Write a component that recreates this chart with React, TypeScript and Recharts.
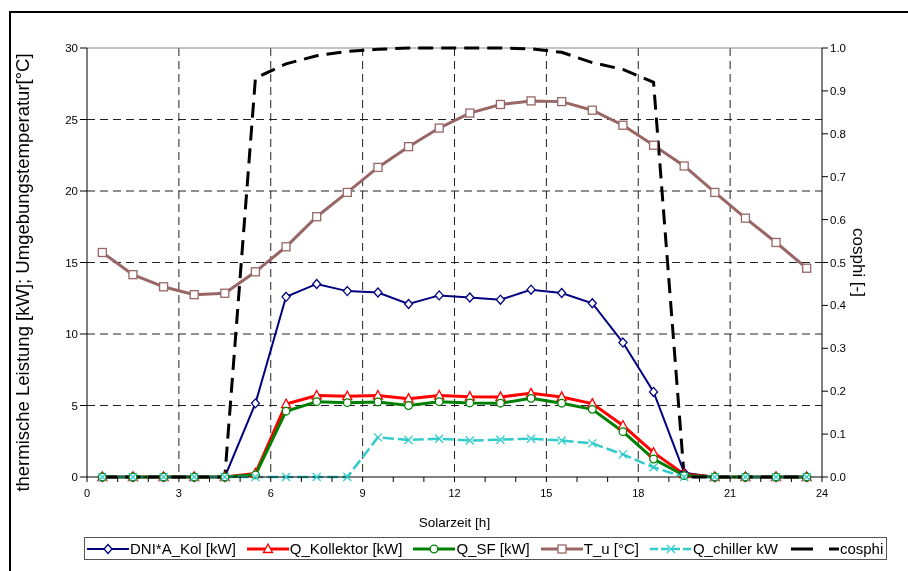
import { CartesianGrid, Legend, Line, LineChart, ReferenceLine, XAxis, YAxis } from "recharts";

// Solarzeit [h], Stundenmitte
const hours = [
  0.5, 1.5, 2.5, 3.5, 4.5, 5.5, 6.5, 7.5, 8.5, 9.5, 10.5, 11.5,
  12.5, 13.5, 14.5, 15.5, 16.5, 17.5, 18.5, 19.5, 20.5, 21.5, 22.5, 23.5,
];

const dniAKol = [0, 0, 0, 0, 0, 5.15, 12.6, 13.5, 13.0, 12.9, 12.1, 12.7, 12.55, 12.4, 13.1, 12.87, 12.15, 9.4, 5.95, 0.3, 0, 0, 0, 0];
const qKollektor = [0, 0, 0, 0, 0, 0.25, 5.1, 5.7, 5.65, 5.7, 5.48, 5.7, 5.62, 5.6, 5.85, 5.6, 5.13, 3.6, 1.7, 0.2, 0, 0, 0, 0];
const qSF = [0, 0, 0, 0, 0, 0.15, 4.6, 5.27, 5.2, 5.25, 5.0, 5.27, 5.18, 5.16, 5.5, 5.16, 4.73, 3.17, 1.26, 0.1, 0, 0, 0, 0];
const tU = [15.7, 14.15, 13.3, 12.75, 12.85, 14.35, 16.1, 18.2, 19.9, 21.65, 23.1, 24.4, 25.45, 26.05, 26.3, 26.25, 25.65, 24.6, 23.2, 21.75, 19.9, 18.1, 16.4, 14.6];
const qChiller = [0, 0, 0, 0, 0, 0, 0, 0, 0, 2.77, 2.59, 2.68, 2.55, 2.61, 2.68, 2.55, 2.35, 1.58, 0.68, 0, 0, 0, 0, 0];
const cosphi = [0, 0, 0, 0, 0, 0.93, 0.963, 0.982, 0.992, 0.997, 1.0, 1.0, 1.0, 1.0, 0.998, 0.99, 0.966, 0.95, 0.92, 0, 0, 0, 0, 0];

const xTicks = [0, 1, 2, 3, 4, 5, 6, 7, 8, 9, 10, 11, 12, 13, 14, 15, 16, 17, 18, 19, 20, 21, 22, 23, 24];
const leftTicks = [0, 5, 10, 15, 20, 25, 30];
const rightTicks = [0, 0.1, 0.2, 0.3, 0.4, 0.5, 0.6, 0.7, 0.8, 0.9, 1.0];
const gridX = [3, 6, 9, 12, 15, 18, 21];
const gridY = [5, 10, 15, 20, 25];

const data = hours.map((t, i) => ({
  t,
  dni: dniAKol[i],
  qkol: qKollektor[i],
  qsf: qSF[i],
  tu: tU[i],
  qch: qChiller[i],
  cosphi: cosphi[i],
}));

const FONT = "Arial, 'Liberation Sans', sans-serif";

type Shape = "diamond" | "triangle" | "circle" | "square" | "cross" | "none";

function Marker({ shape, cx, cy, color }: { shape: Shape; cx: number; cy: number; color: string }) {
  if (cx == null || cy == null) return <g />;
  switch (shape) {
    case "diamond":
      return <polygon points={`${cx},${cy - 4.5} ${cx + 4},${cy} ${cx},${cy + 4.5} ${cx - 4},${cy}`} fill="#fff" stroke={color} strokeWidth={1.3} />;
    case "triangle":
      return <polygon points={`${cx},${cy - 5} ${cx + 4.5},${cy + 3.5} ${cx - 4.5},${cy + 3.5}`} fill="#fff" stroke={color} strokeWidth={1.3} />;
    case "circle":
      return <circle cx={cx} cy={cy} r={3.8} fill="#fff" stroke={color} strokeWidth={1.3} />;
    case "square":
      return <rect x={cx - 4} y={cy - 4} width={8} height={8} fill="#fff" stroke={color} strokeWidth={1.3} />;
    case "cross":
      return <path d={`M${cx - 4},${cy - 4}L${cx + 4},${cy + 4}M${cx + 4},${cy - 4}L${cx - 4},${cy + 4}`} stroke={color} strokeWidth={1.3} fill="none" />;
    default:
      return <g />;
  }
}

const series = [
  { key: "dni", name: "DNI*A_Kol [kW]", color: "#000080", width: 2, shape: "diamond" as Shape, dash: undefined, axis: "left" },
  { key: "qkol", name: "Q_Kollektor [kW]", color: "#ff0000", width: 3, shape: "triangle" as Shape, dash: undefined, axis: "left" },
  { key: "qsf", name: "Q_SF [kW]", color: "#008000", width: 3, shape: "circle" as Shape, dash: undefined, axis: "left" },
  { key: "tu", name: "T_u [°C]", color: "#996666", width: 3, shape: "square" as Shape, dash: undefined, axis: "left" },
  { key: "qch", name: "Q_chiller kW", color: "#33cccc", width: 2.5, shape: "cross" as Shape, dash: "11 4", axis: "left" },
  { key: "cosphi", name: "cosphi", color: "#000000", width: 3, shape: "none" as Shape, dash: "15 8", axis: "right" },
];

function LegendBox() {
  return (
    <div
      style={{
        border: "1px solid #555",
        height: 23,
        boxSizing: "border-box",
        display: "flex",
        alignItems: "center",
        paddingLeft: 2,
        fontFamily: FONT,
        fontSize: 15,
        color: "#000",
        background: "#fff",
        whiteSpace: "nowrap",
      }}
    >
      {series.map((s) => (
        <div key={s.key} style={{ display: "flex", alignItems: "center", marginRight: 11 }}>
          <svg width={s.shape === "none" ? 50 : 42} height={12} style={{ marginRight: 1 }}>
            {s.shape === "none" ? (
              <>
                <line x1={2} y1={6} x2={24} y2={6} stroke="#000" strokeWidth={3} />
                <line x1={40} y1={6} x2={50} y2={6} stroke="#000" strokeWidth={3} />
              </>
            ) : (
              <>
                <line x1={0} y1={6} x2={42} y2={6} stroke={s.color} strokeWidth={s.width} strokeDasharray={s.dash ? "8 3" : undefined} />
                <Marker shape={s.shape} cx={21} cy={6} color={s.color} />
              </>
            )}
          </svg>
          <span>{s.name}</span>
        </div>
      ))}
    </div>
  );
}

function XTick(props: any) {
  const { x, y, payload } = props;
  if (payload.value % 3 !== 0) return <g />;
  return (
    <text x={x} y={y + 13} textAnchor="middle" fontSize={11} fontFamily={FONT} fill="#000">
      {payload.value}
    </text>
  );
}

function LeftTitle(props: any) {
  const vb = props.viewBox;
  const x = vb.x + 14;
  const y = vb.y + vb.height / 2 + 10;
  return (
    <text x={x} y={y} transform={`rotate(-90 ${x} ${y})`} textAnchor="middle" dominantBaseline="central" fontSize={18.5} fontFamily={FONT} fill="#000">
      thermische Leistung [kW]; Umgebungstemperatur[°C]
    </text>
  );
}

function RightTitle(props: any) {
  const vb = props.viewBox;
  const x = vb.x + 36;
  const y = vb.y + vb.height / 2;
  return (
    <text x={x} y={y} transform={`rotate(90 ${x} ${y})`} textAnchor="middle" dominantBaseline="central" fontSize={17} fontFamily={FONT} fill="#000">
      cosphi [-]
    </text>
  );
}

export default function App() {
  return (
    <div style={{ position: "relative", width: 900, height: 555, fontFamily: FONT }}>
      <div
        style={{
          position: "fixed",
          left: 9,
          top: 11,
          width: 1200,
          height: 1200,
          borderTop: "2px solid #000",
          borderLeft: "2px solid #000",
          pointerEvents: "none",
        }}
      />
      <LineChart width={900} height={555} data={data} margin={{ top: 40, right: 0, bottom: 0, left: 0 }}>
        <CartesianGrid
          yAxisId="left"
          horizontalValues={gridY}
          verticalValues={gridX}
          stroke="#222"
          strokeDasharray="8 5"
          strokeWidth={1}
        />
        <ReferenceLine yAxisId="left" y={30} stroke="#888" strokeWidth={1} />
        <XAxis
          dataKey="t"
          type="number"
          domain={[0, 24]}
          ticks={xTicks}
          interval={0}
          height={86}
          tick={<XTick />}
          tickSize={5}
          axisLine={{ stroke: "#000" }}
          tickLine={{ stroke: "#000" }}
          label={{ value: "Solarzeit [h]", position: "insideBottom", offset: 36, fontSize: 13.5, fill: "#000", fontFamily: FONT }}
        />
        <YAxis
          yAxisId="left"
          domain={[0, 30]}
          ticks={leftTicks}
          interval={0}
          width={79}
          tickSize={7}
          tick={{ fontSize: 11.5, fill: "#000", fontFamily: FONT }}
          axisLine={{ stroke: "#000" }}
          tickLine={{ stroke: "#000" }}
          label={<LeftTitle />}
        />
        <YAxis
          yAxisId="right"
          orientation="right"
          domain={[0, 1]}
          ticks={rightTicks}
          interval={0}
          width={86}
          tickSize={6}
          tickFormatter={(v: number) => v.toFixed(1)}
          tick={{ fontSize: 11.5, fill: "#000", fontFamily: FONT }}
          axisLine={{ stroke: "#000" }}
          tickLine={{ stroke: "#000" }}
          label={<RightTitle />}
        />
        {series.map((s) => (
          <Line
            key={s.key}
            yAxisId={s.axis}
            dataKey={s.key}
            name={s.name}
            type="linear"
            stroke={s.color}
            strokeWidth={s.width}
            strokeDasharray={s.dash}
            isAnimationActive={false}
            activeDot={false}
            dot={
              s.shape === "none"
                ? false
                : (p: any) => <Marker key={`${s.key}-${p.index}`} shape={s.shape} cx={p.cx} cy={p.cy} color={s.color} />
            }
          />
        ))}
        <Legend
          verticalAlign="middle"
          align="center"
          layout="horizontal"
          wrapperStyle={{ position: "absolute", left: 76, top: 529, width: 803, height: 23 }}
          content={() => <LegendBox />}
        />
      </LineChart>
    </div>
  );
}
